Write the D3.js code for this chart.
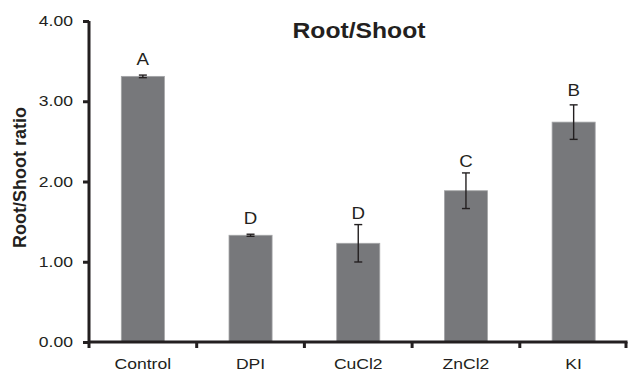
<!DOCTYPE html>
<html>
<head>
<meta charset="utf-8">
<script src="https://cdn.jsdelivr.net/npm/d3@7"></script>
<style>
  body { margin: 0; background: #fff; }
  text { font-family: "Liberation Sans", Arial, sans-serif; fill: #231f20; }
</style>
</head>
<body>
<div id="chart"></div>
<script>
// data
const categories = ["Control", "DPI", "CuCl2", "ZnCl2", "KI"];
const ratios = [3.31, 1.33, 1.23, 1.885, 2.74];
const errors = [0.016, 0.013, 0.233, 0.222, 0.215];
const groupLetters = ["A", "D", "D", "C", "B"];
const letterHeights = [3.45, 1.47, 1.53, 2.18, 3.06];
const yTicks = [0, 1, 2, 3, 4];

const W = 629, H = 373;
const plotLeft = 89, plotRight = 627.5, plotTop = 21, plotBottom = 342;
const stretch = 1.17;   // the picture is a bit wider than tall
const ink = "#231f20";

const svg = d3.select("#chart").append("svg")
    .attr("width", W)
    .attr("height", H);

const x = d3.scaleBand()
    .domain(categories)
    .range([plotLeft, plotRight])
    .padding(0);

const y = d3.scaleLinear()
    .domain([0, 4])
    .range([plotBottom, plotTop]);

const barW = x.bandwidth() * 0.4;
const rows = categories.map((c, i) => ({
    cat: c, v: ratios[i], e: errors[i], letter: groupLetters[i], ly: letterHeights[i]
}));

// bars
svg.selectAll(".bar")
    .data(rows)
    .enter()
    .append("rect")
    .attr("x", d => x(d.cat) + (x.bandwidth() - barW) / 2)
    .attr("y", d => y(d.v))
    .attr("width", barW)
    .attr("height", d => y(0) - y(d.v))
    .attr("fill", "#77787b")
    .attr("stroke", "#a4a5a7")
    .attr("stroke-width", 0.8);

// error bars
const cx = d => x(d.cat) + x.bandwidth() / 2;
const err = svg.append("g").attr("stroke", ink).attr("stroke-width", 1.4);
err.selectAll(".stem")
    .data(rows)
    .enter()
    .append("line")
    .attr("x1", cx).attr("x2", cx)
    .attr("y1", d => y(d.v + d.e))
    .attr("y2", d => y(d.v - d.e));
err.selectAll(".capTop")
    .data(rows)
    .enter()
    .append("line")
    .attr("x1", d => cx(d) - 4).attr("x2", d => cx(d) + 4)
    .attr("y1", d => y(d.v + d.e)).attr("y2", d => y(d.v + d.e));
err.selectAll(".capBot")
    .data(rows)
    .enter()
    .append("line")
    .attr("x1", d => cx(d) - 4).attr("x2", d => cx(d) + 4)
    .attr("y1", d => y(d.v - d.e)).attr("y2", d => y(d.v - d.e));

// significance letters
svg.selectAll(".letter")
    .data(rows)
    .enter()
    .append("text")
    .attr("transform", d => `translate(${cx(d)},${y(d.ly)}) scale(${stretch},1)`)
    .attr("text-anchor", "middle")
    .style("font-size", "16px")
    .text(d => d.letter);

// y axis
const yAxis = svg.append("g")
    .attr("transform", `translate(${plotLeft},0)`)
    .call(d3.axisLeft(y).tickValues(yTicks).tickSize(6).tickSizeOuter(0).tickFormat(""));
yAxis.select(".domain").attr("stroke", ink).attr("stroke-width", 3).attr("d", `M0,${plotTop}V${plotBottom + 6}`);
yAxis.selectAll(".tick line").attr("stroke", ink).attr("stroke-width", 3);

svg.selectAll(".ylab")
    .data(yTicks)
    .enter()
    .append("text")
    .attr("transform", d => `translate(${plotLeft - 16},${y(d) + 5}) scale(${stretch},1)`)
    .attr("text-anchor", "end")
    .style("font-size", "15px")
    .text(d3.format(".2f"));

// x axis with ticks at category boundaries
svg.append("line")
    .attr("x1", plotLeft).attr("x2", plotRight)
    .attr("y1", plotBottom).attr("y2", plotBottom)
    .attr("stroke", ink).attr("stroke-width", 3);
svg.selectAll(".xtick")
    .data(categories.slice(1).map(c => x(c)).concat([x.range()[1] - 1.5]))
    .enter()
    .append("line")
    .attr("x1", d => d).attr("x2", d => d)
    .attr("y1", plotBottom).attr("y2", plotBottom + 6)
    .attr("stroke", ink).attr("stroke-width", 3);

svg.selectAll(".xlab")
    .data(categories)
    .enter()
    .append("text")
    .attr("transform", d => `translate(${x(d) + x.bandwidth() / 2},369) scale(${stretch},1)`)
    .attr("text-anchor", "middle")
    .style("font-size", "15px")
    .text(d => d);

// title and axis label
svg.append("text")
    .attr("transform", `translate(359,38) scale(${stretch * 0.96},1)`)
    .attr("text-anchor", "middle")
    .style("font-size", "22px")
    .style("font-weight", "bold")
    .text("Root/Shoot");

svg.append("text")
    .attr("transform", `translate(26,${(plotTop + plotBottom) / 2 - 4}) rotate(-90)`)
    .attr("text-anchor", "middle")
    .style("font-size", "18px")
    .style("font-weight", "bold")
    .text("Root/Shoot ratio");
</script>
</body>
</html>
